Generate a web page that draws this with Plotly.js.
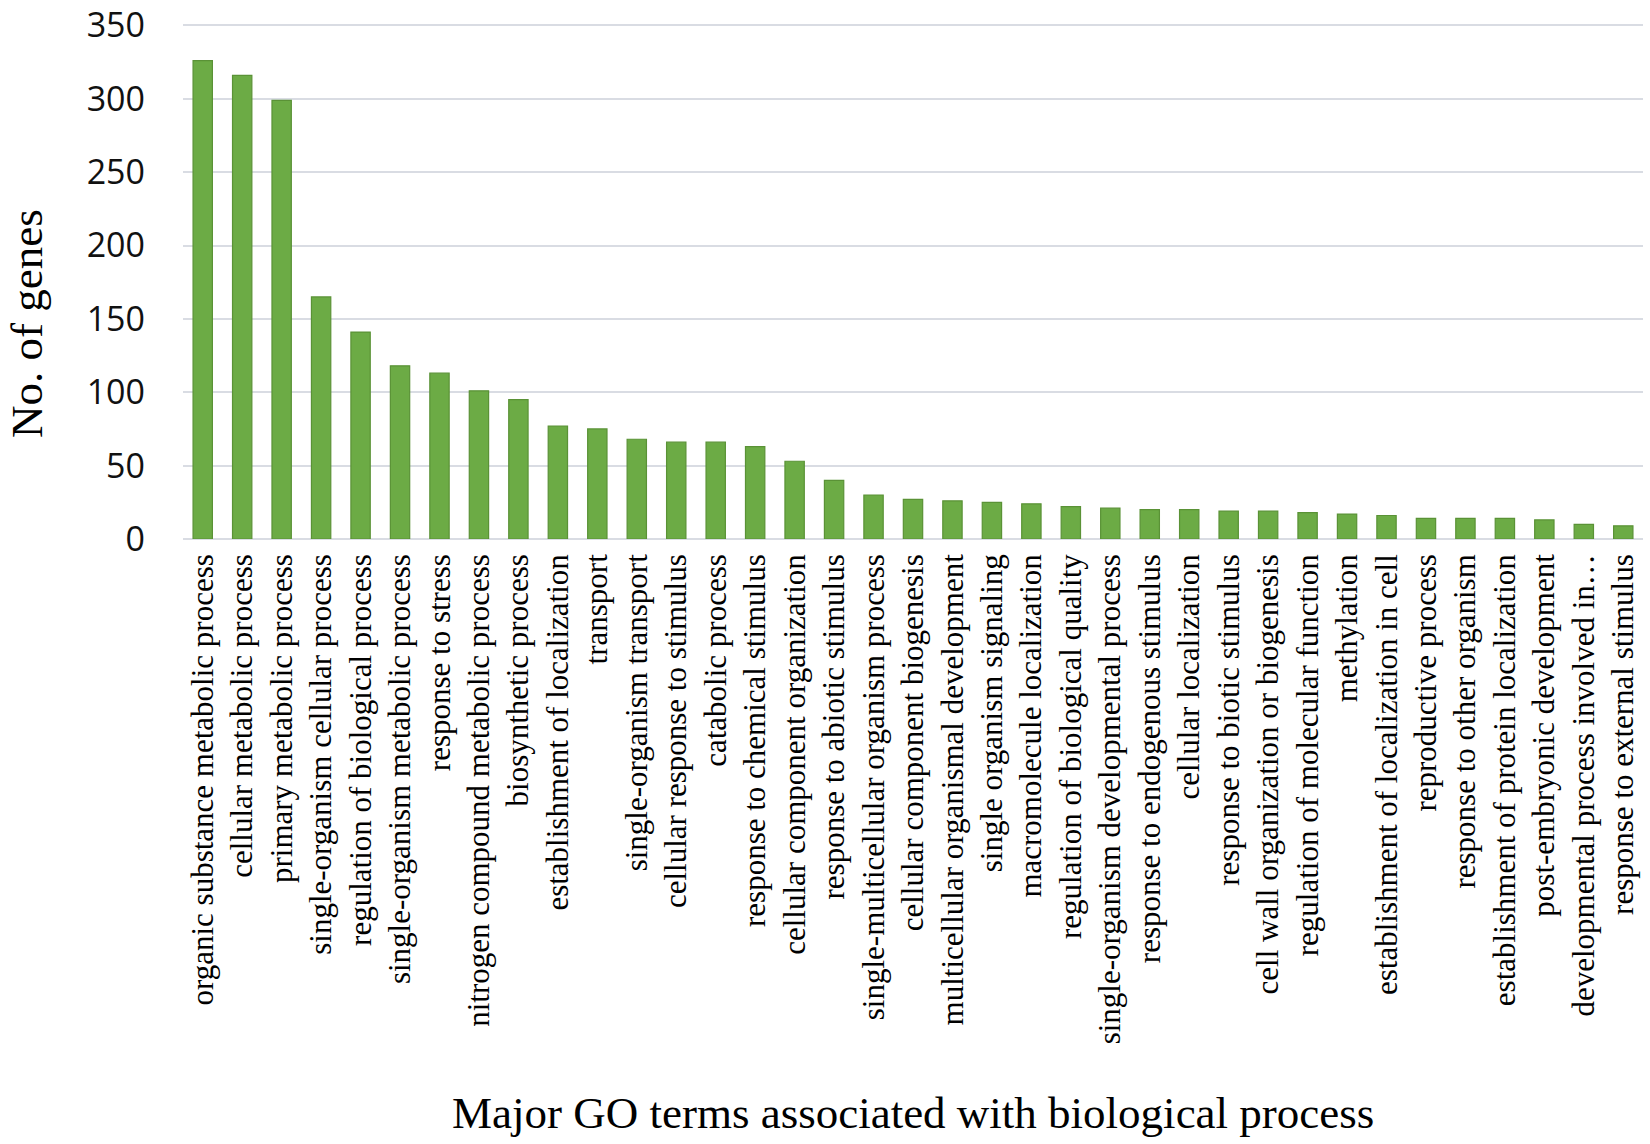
<!DOCTYPE html>
<html>
<head>
<meta charset="utf-8">
<script src="https://cdn.plot.ly/plotly-3.0.1.min.js"></script>
<style>
  html, body { margin: 0; padding: 0; background: #ffffff; }
  #barPlot_go { width: 1650px; height: 1144px; }
</style>
</head>
<body>
<div id="barPlot_go"></div>
<script>
// GO terms (biological process) and number of genes
let goTerms = [
  "organic substance metabolic process",
  "cellular metabolic process",
  "primary metabolic process",
  "single-organism cellular process",
  "regulation of biological process",
  "single-organism metabolic process",
  "response to stress",
  "nitrogen compound metabolic process",
  "biosynthetic process",
  "establishment of localization",
  "transport",
  "single-organism transport",
  "cellular response to stimulus",
  "catabolic process",
  "response to chemical stimulus",
  "cellular component organization",
  "response to abiotic stimulus",
  "single-multicellular organism process",
  "cellular component biogenesis",
  "multicellular organismal development",
  "single organism signaling",
  "macromolecule localization",
  "regulation of biological quality",
  "single-organism developmental process",
  "response to endogenous stimulus",
  "cellular localization",
  "response to biotic stimulus",
  "cell wall organization or biogenesis",
  "regulation of molecular function",
  "methylation",
  "establishment of localization in cell",
  "reproductive process",
  "response to other organism",
  "establishment of protein localization",
  "post-embryonic development",
  "developmental process involved in\u2026",
  "response to external stimulus",
];

let geneCounts = [
  326, 316, 299, 165, 141, 118, 113, 101, 95, 77,
  75, 68, 66, 66, 63, 53, 40, 30, 27, 26,
  25, 24, 22, 21, 20, 20, 19, 19, 18, 17,
  16, 14, 14, 14, 13, 10, 9,
];

let yTicks = [0, 50, 100, 150, 200, 250, 300, 350];

var cb_barPlot_go = function () {
  let trace1 = {
    x: goTerms,
    y: geneCounts,
    type: "bar",
    marker: {
      color: "#6cab45",
      line: { color: "#5a9236", width: 1.2 },
    },
    hoverinfo: "x+y",
  };

  let data = [trace1];

  let layout = {
    width: 1650,
    height: 1144,
    margin: { l: 183, r: 7, t: 24, b: 605, pad: 0 },
    paper_bgcolor: "#ffffff",
    plot_bgcolor: "#ffffff",
    showlegend: false,
    bargap: 0.51,

    xaxis: {
      type: "category",
      tickangle: -90,
      tickfont: { family: "Liberation Serif, Times New Roman, serif", size: 31, color: "#000000" },
      ticks: "",
      ticklabelstandoff: 8,
      showgrid: false,
      showline: false,
      zeroline: false,
      fixedrange: true,
    },
    yaxis: {
      range: [0, 351], // a little headroom so the 350 grid line and label are kept
      tickvals: yTicks,
      ticktext: yTicks.map(String),
      tickfont: { family: "Open Sans, Lato, sans-serif", size: 34, color: "#111111" },
      ticks: "",
      ticklabelstandoff: 37,
      ticklabeloverflow: "allow",
      showgrid: true,
      gridcolor: "#d9dce3",
      gridwidth: 2,
      zeroline: true,
      zerolinecolor: "#d9dce3",
      zerolinewidth: 2,
      showline: false,
      fixedrange: true,
    },

    // axis titles placed as annotations to match their offsets in the figure
    annotations: [
      {
        text: "No. of genes",
        xref: "paper",
        yref: "paper",
        x: -0.107,
        y: 0.419,
        xanchor: "center",
        yanchor: "middle",
        textangle: -90,
        showarrow: false,
        font: { family: "Liberation Serif, Times New Roman, serif", size: 45, color: "#000000" },
      },
      {
        text: "Major GO terms associated with biological process",
        xref: "paper",
        yref: "paper",
        x: 0.5,
        y: -1.1146,
        xanchor: "center",
        yanchor: "middle",
        showarrow: false,
        font: { family: "Liberation Serif, Times New Roman, serif", size: 45, color: "#000000" },
      },
    ],
  };
  // end layout

  let config = {
    responsive: false,
    displayModeBar: false,
    displaylogo: false,
  };

  Plotly.newPlot("barPlot_go", data, layout, config);
};

function init_barPlot_go() {
  if (
    document.readyState === "complete" ||
    (document.readyState !== "loading" && !document.documentElement.doScroll)
  ) {
    cb_barPlot_go();
  } else {
    document.addEventListener("DOMContentLoaded", cb_barPlot_go);
  }
}

init_barPlot_go();
</script>
</body>
</html>
